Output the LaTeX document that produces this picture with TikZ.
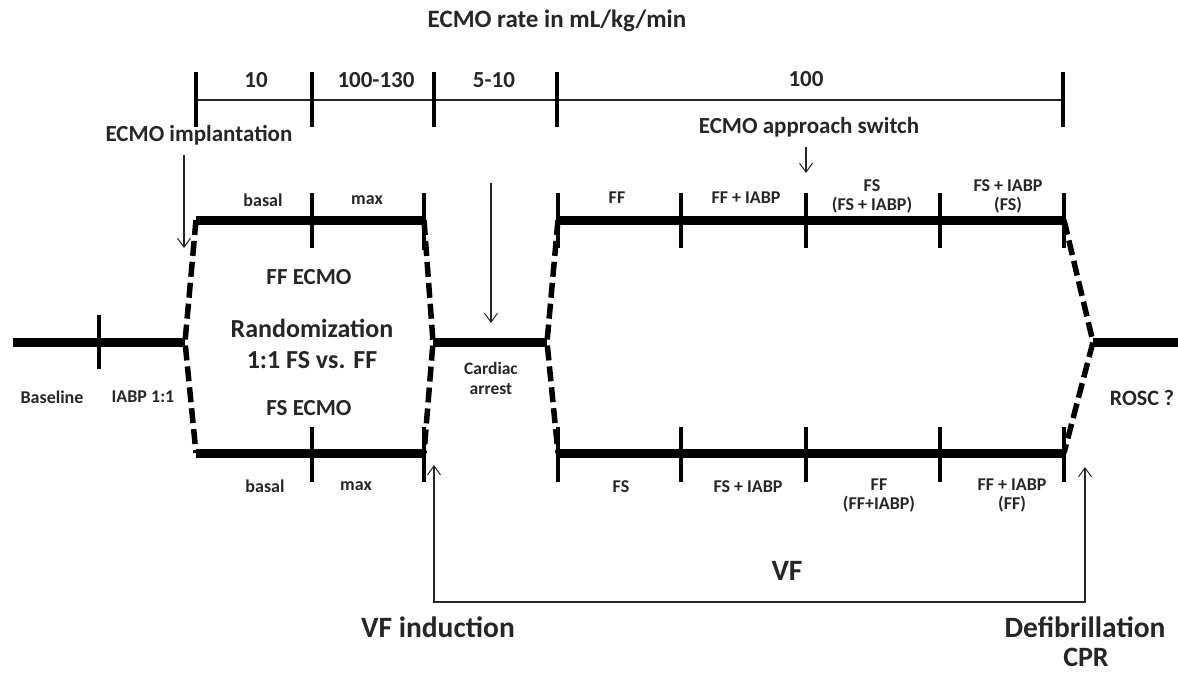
\documentclass[tikz,border=0pt]{standalone}
\usepackage{fontspec}
\setmainfont{Carlito}
\usetikzlibrary{arrows.meta}
\begin{document}
\begin{tikzpicture}[x=1pt,y=-1pt,
  heavy/.style={line width=9pt},
  tickline/.style={line width=3.6pt},
  thinline/.style={line width=1.1pt, draw=black!85},
  dashline/.style={line width=5.5pt, dash pattern=on 15pt off 6pt},
  tip/.tip={Straight Barb[length=9pt,width=13pt,line width=1pt]},
  arr/.style={thinline, -tip},
  lblS/.style={font=\bfseries\fontsize{18}{19}\selectfont, align=center, inner sep=0pt, text=black!85},
  lblM/.style={font=\bfseries\fontsize{23}{26}\selectfont, align=center, inner sep=0pt, text=black!85},
  lblR/.style={font=\bfseries\fontsize{23}{27}\selectfont, align=center, inner sep=0pt, text=black!85},
  lblL/.style={font=\bfseries\fontsize{26}{30}\selectfont, align=center, inner sep=0pt, text=black!85},
  lblB/.style={font=\bfseries\fontsize{29.5}{34}\selectfont, align=center, inner sep=0pt, text=black!85}]
\useasboundingbox (0,0) rectangle (1178,675);

% ---------- rate axis ----------
\node[lblM, font=\bfseries\fontsize{25}{28}\selectfont] (title) at (557,21) {ECMO rate in mL/kg/min};
\coordinate (r0) at (196,100);
\coordinate (r4) at (1063,100);
\draw[thinline] (r0) -- (r4);
\foreach \x in {196,312,434,557,1063} \draw[tickline] (\x,72) -- (\x,127);
\node[lblM] (ra) at (256,80) {10};
\node[lblM] (rb) at (376,80) {100-130};
\node[lblM] (rc) at (494,80) {5-10};
\node[lblM] (rd) at (806,79) {100};

% ---------- event labels ----------
\node[lblM] (impl) at (199,135) {ECMO implantation};
\node[lblM] (switch) at (809,127) {ECMO approach switch};
\coordinate (implA) at (184,155);
\coordinate (implB) at (184,248);
\draw[arr] (implA) -- (implB);
\coordinate (swA) at (806,147);
\coordinate (swB) at (806,173);
\draw[arr] (swA) -- (swB);
\coordinate (caA) at (491,183);
\coordinate (caB) at (491,323);
\draw[arr] (caA) -- (caB);

% ---------- baseline ----------
\coordinate (b0) at (13,342);
\coordinate (b1) at (185,342);
\draw[heavy] (b0) -- (b1);
\draw[tickline] (99,315) -- (99,369);
\node[lblS] (base) at (52,397) {Baseline};
\node[lblS] (iabp) at (143,397) {IABP 1:1};

% ---------- first ECMO phase ----------
\coordinate (t0) at (196,220);
\coordinate (t1) at (424,220);
\coordinate (u0) at (196,453);
\coordinate (u1) at (424,453);
\draw[heavy] (t0) -- (t1);
\draw[heavy] (u0) -- (u1);
\draw[tickline] (312,193) -- (312,248);
\draw[tickline] (424,193) -- (424,250);
\draw[tickline] (312,427) -- (312,482);
\draw[tickline] (424,427) -- (424,482);
\node[lblS] (tb) at (263,200) {basal};
\node[lblS] (tm) at (367,200) {max};
\node[lblS] (ub) at (265,486) {basal};
\node[lblS] (um) at (356,486) {max};
\node[lblR] (ffe) at (309,277) {FF ECMO};
\node[lblL] (rnd) at (312,328) {Randomization};
\node[lblL] (rr) at (312,360) {1:1 FS vs. FF};
\node[lblR] (fse) at (309,408) {FS ECMO};

% ---------- cardiac arrest ----------
\coordinate (c0) at (433,342);
\coordinate (c1) at (547,342);
\draw[heavy] (c0) -- (c1);
\node[lblS, align=center, font=\bfseries\fontsize{17.5}{20}\selectfont] (ca) at (491,378) {Cardiac\\arrest};

% ---------- second phase ----------
\coordinate (v0) at (558,220);
\coordinate (v1) at (1064,220);
\coordinate (w0) at (558,453);
\coordinate (w1) at (1064,453);
\draw[heavy] (v0) -- (v1);
\draw[heavy] (w0) -- (w1);
\foreach \x in {558,681,806,940,1064} {
  \draw[tickline] (\x,193) -- (\x,248);
  \draw[tickline] (\x,427) -- (\x,482);
}
\node[lblS] (p1) at (617,198) {FF};
\node[lblS] (p2) at (746,198) {FF + IABP};
\node[lblS] (p3) at (872,196) {FS\\(FS + IABP)};
\node[lblS] (p4) at (1008,196) {FS + IABP\\(FS)};
\node[lblS] (q1) at (621,487) {FS};
\node[lblS] (q2) at (748,487) {FS + IABP};
\node[lblS] (q3) at (879,496) {FF\\(FF+IABP)};
\node[lblS] (q4) at (1012,496) {FF + IABP\\(FF)};

% ---------- ROSC ----------
\coordinate (o0) at (1093,342);
\coordinate (o1) at (1178,342);
\draw[heavy] (o0) -- (o1);
\node[lblM, font=\bfseries\fontsize{22}{26}\selectfont] (rosc) at (1142,398) {ROSC ?};

% ---------- dashed transitions ----------
\draw[dashline] (t0) -- (b1) -- (u0);
\draw[dashline] (t1) -- (c0) -- (u1);
\draw[dashline] (v0) -- (c1) -- (w0);
\draw[dashline] (v1) -- (o0) -- (w1);

% ---------- VF loop ----------
\coordinate (vfA) at (434,465);
\coordinate (vfB) at (434,602);
\coordinate (vfC) at (1085,602);
\coordinate (vfD) at (1085,467);
\draw[thinline, tip-tip] (vfA) -- (vfB) -- (vfC) -- (vfD);
\node[lblB] (vf) at (787,571) {VF};
\node[lblB] (vfi) at (438,627) {VF induction};
\node[lblB] (defib) at (1085,627) {Defibrillation};
\node[lblB, font=\bfseries\fontsize{28}{32}\selectfont] (cpr) at (1086,657) {CPR};
\end{tikzpicture}
\end{document}
